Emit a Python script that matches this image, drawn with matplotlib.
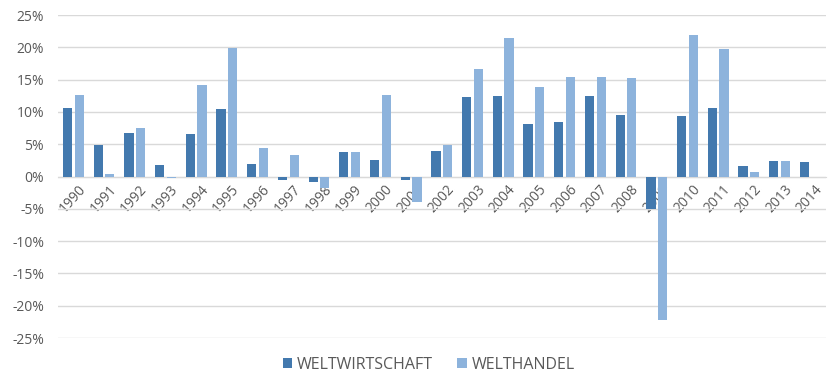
import numpy as np
import matplotlib.pyplot as plt
from matplotlib.ticker import FuncFormatter

years = [str(y) for y in range(1990, 2015)]
weltwirtschaft = [10.6, 4.9, 6.8, 1.8, 6.6, 10.4, 2.0, -0.5, -0.9, 3.8, 2.6, -0.5,
                  4.0, 12.3, 12.5, 8.1, 8.4, 12.5, 9.5, -5.0, 9.3, 10.6, 1.6, 2.4, 2.2]
welthandel = [12.6, 0.4, 7.5, -0.3, 14.1, 19.9, 4.4, 3.4, -1.8, 3.8, 12.6, -3.9,
              4.9, 16.7, 21.4, 13.9, 15.4, 15.4, 15.2, -22.2, 21.9, 19.8, 0.7, 2.4, np.nan]

dark = "#4379ae"
light = "#8db3dc"
grey = "#595959"

plt.rcParams['font.family'] = ['Open Sans', 'DejaVu Sans']

fig = plt.figure(figsize=(8.34, 3.85), dpi=100)
ax = fig.add_axes([0.0695, 0.122, 0.9205, 0.839])

x = np.arange(len(years))
w = 0.3
ax.bar(x - 0.19, weltwirtschaft, w, color=dark, label="WELTWIRTSCHAFT", zorder=3)
ax.bar(x + 0.19, welthandel, w, color=light, label="WELTHANDEL", zorder=3)

ax.set_xlim(-0.5, len(years) - 0.5)
ax.set_ylim(-25, 25)
ax.set_yticks(range(-25, 30, 5))
ax.yaxis.set_major_formatter(FuncFormatter(lambda v, _: f"{v:.0f}%"))
ax.grid(axis='y', color="#d9d9d9", linewidth=1, zorder=0)

for s in ['top', 'right', 'left']:
    ax.spines[s].set_visible(False)
ax.spines['bottom'].set_position(('data', 0))
ax.spines['bottom'].set_color("#d9d9d9")

# year labels hang off the zero line, rotated like the spreadsheet original
ax.set_xticks(x + 0.15)
ax.set_xticklabels(years, rotation=48, ha='right', va='top',
                   rotation_mode='anchor', fontsize=10, color=grey)
ax.tick_params(axis='x', length=0, pad=4)
ax.tick_params(axis='y', length=0, pad=10, labelsize=10, labelcolor=grey)

fig.legend(loc='lower center', bbox_to_anchor=(0.514, -0.005), ncol=2, frameon=False,
           fontsize=11.5, labelcolor=grey, handlelength=0.6, handleheight=0.6,
           handletextpad=0.3, columnspacing=1.5)

fig.savefig("out.png", dpi=100)
